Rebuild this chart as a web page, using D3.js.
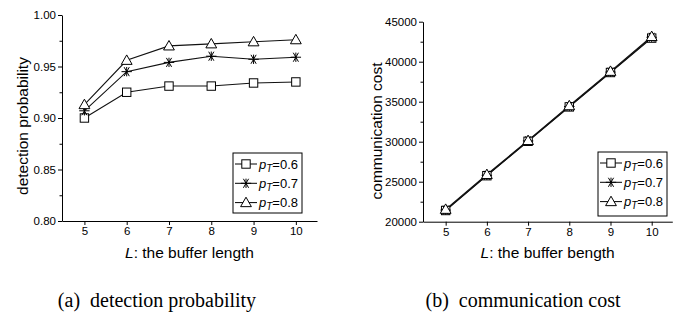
<!DOCTYPE html>
<html>
<head>
<meta charset="utf-8">
<script src="https://cdn.jsdelivr.net/npm/d3@7"></script>
<style>
  body { margin: 0; background: #fff; }
  svg { display: block; }
  text { font-family: "Liberation Sans", Arial, sans-serif; fill: #000; }
</style>
</head>
<body>
<svg id="chart" width="683" height="322"></svg>
<script>
// Data
const bufferLength = [5, 6, 7, 8, 9, 10];
const seriesNames = ['0.6', '0.7', '0.8'];
const markerTypes = ['square', 'star', 'triangle'];

const detect06 = [0.900, 0.925, 0.931, 0.931, 0.934, 0.935];
const detect07 = [0.907, 0.945, 0.954, 0.960, 0.957, 0.959];
const detect08 = [0.913, 0.956, 0.970, 0.972, 0.974, 0.976];

const cost06 = [21400, 25750, 30050, 34350, 38650, 42950];
const cost07 = [21450, 25800, 30100, 34400, 38700, 43050];
const cost08 = [21550, 25900, 30150, 34500, 38800, 43150];

const detectTicks = [0.80, 0.85, 0.90, 0.95, 1.00];
const costTicks = [20000, 25000, 30000, 35000, 40000, 45000];

const svg = d3.select('#chart');

function drawMarker(g, type, cx, cy) {
  if (type === 'square') {
    g.append('rect')
      .attr('x', cx - 4.2).attr('y', cy - 4.2)
      .attr('width', 8.4).attr('height', 8.4)
      .attr('fill', '#fff').attr('stroke', '#000').attr('stroke-width', 1);
  } else if (type === 'triangle') {
    const r = 5.4;
    g.append('path')
      .attr('d', `M${cx},${cy - r}L${cx + r},${cy + r * 0.75}L${cx - r},${cy + r * 0.75}Z`)
      .attr('fill', '#fff').attr('stroke', '#000').attr('stroke-width', 1);
  } else {
    const r = 5.2;
    let d = '';
    [0, 60, 120].forEach(a => {
      const rad = a * Math.PI / 180;
      d += `M${cx - r * Math.cos(rad)},${cy - r * Math.sin(rad)}L${cx + r * Math.cos(rad)},${cy + r * Math.sin(rad)}`;
    });
    d += `M${cx},${cy - r * 0.9}L${cx},${cy + r * 0.9}`;
    g.append('path').attr('d', d)
      .attr('fill', 'none').attr('stroke', '#000').attr('stroke-width', 1);
  }
}

function drawPanel(opts) {
  const { series, xDomain, xRange, yDomain, yRange, yTicks, minorStep, fmt,
          yLabel, yLabelPos, xLabel, xLabelY, legendBox } = opts;

  const x = d3.scaleLinear().domain(xDomain).range(xRange);
  const y = d3.scaleLinear().domain(yDomain).range(yRange);
  const g = svg.append('g');

  // Minor ticks
  const minor = d3.range(yDomain[0] + minorStep, yDomain[1], minorStep * 2);
  g.append('g')
    .attr('transform', `translate(${xRange[0]},0)`)
    .call(d3.axisLeft(y).tickValues(minor).tickSize(2.5).tickFormat(''))
    .call(a => a.select('.domain').remove())
    .selectAll('line').attr('stroke', '#000');

  // Y axis
  const ya = g.append('g')
    .attr('transform', `translate(${xRange[0]},0)`)
    .call(d3.axisLeft(y).tickValues(yTicks).tickFormat(fmt).tickSize(4).tickSizeOuter(0).tickPadding(2));
  ya.selectAll('text').style('font-size', '11.5px').attr('fill', '#000');
  ya.selectAll('line, path').attr('stroke', '#000');

  // X axis
  const xa = g.append('g')
    .attr('transform', `translate(0,${yRange[0]})`)
    .call(d3.axisBottom(x).tickValues(bufferLength).tickFormat(d3.format('d'))
      .tickSize(4).tickSizeOuter(0).tickPadding(2));
  xa.selectAll('text').style('font-size', '11.5px').attr('fill', '#000');
  xa.selectAll('line, path').attr('stroke', '#000');

  // Lines and markers
  const line = d3.line().x((d, i) => x(bufferLength[i])).y(d => y(d));
  series.forEach(vals => {
    g.append('path').datum(vals)
      .attr('d', line)
      .attr('fill', 'none').attr('stroke', '#111').attr('stroke-width', 1.1);
  });
  series.forEach((vals, s) => {
    vals.forEach((v, i) => drawMarker(g, markerTypes[s], x(bufferLength[i]), y(v)));
  });

  // Axis titles
  g.append('text')
    .attr('transform', `translate(${yLabelPos[0]},${yLabelPos[1]}) rotate(-90)`)
    .attr('text-anchor', 'middle')
    .style('font-size', '15.5px')
    .text(yLabel);

  const xt = g.append('text')
    .attr('x', (xRange[0] + xRange[1]) / 2)
    .attr('y', xLabelY)
    .attr('text-anchor', 'middle')
    .style('font-size', '15.5px');
  xt.append('tspan').style('font-style', 'italic').text('L');
  xt.append('tspan').text(xLabel);

  // Legend
  const [lx, ly, lw, lh] = legendBox;
  g.append('rect')
    .attr('x', lx).attr('y', ly).attr('width', lw).attr('height', lh)
    .attr('fill', '#fff').attr('stroke', '#000').attr('stroke-width', 1);
  seriesNames.forEach((name, s) => {
    const cy = ly + 11 + s * 19.3;
    g.append('line')
      .attr('x1', lx + 2).attr('x2', lx + 24)
      .attr('y1', cy).attr('y2', cy)
      .attr('stroke', '#000').attr('stroke-width', 1);
    drawMarker(g, markerTypes[s], lx + 13, cy);
    const t = g.append('text')
      .attr('x', lx + 26).attr('y', cy + 4.5)
      .style('font-size', '13px');
    t.append('tspan').style('font-style', 'italic').text('p');
    t.append('tspan').style('font-style', 'italic').style('font-size', '10px').attr('dy', 3).text('T');
    t.append('tspan').attr('dy', -3).text('=' + name);
  });
}

drawPanel({
  series: [detect06, detect07, detect08],
  xDomain: [4.47, 10.5], xRange: [62, 317],
  yDomain: [0.80, 1.00], yRange: [221, 15],
  yTicks: detectTicks, minorStep: 0.025, fmt: d3.format('.2f'),
  yLabel: 'detection probability', yLabelPos: [28, 126],
  xLabel: ': the buffer length', xLabelY: 258,
  legendBox: [233, 153, 69, 60]
});

drawPanel({
  series: [cost06, cost07, cost08],
  xDomain: [4.45, 10.5], xRange: [423, 672.3],
  yDomain: [20000, 45000], yRange: [221.7, 21.7],
  yTicks: costTicks, minorStep: 2500, fmt: d3.format('d'),
  yLabel: 'communication cost', yLabelPos: [382, 131],
  xLabel: ': the buffer bength', xLabelY: 258,
  legendBox: [598, 152, 69, 64]
});

// Sub-captions
svg.append('text')
  .attr('x', 157).attr('y', 307)
  .attr('text-anchor', 'middle')
  .style('font-family', '"Liberation Serif", "Times New Roman", serif')
  .style('font-size', '20px')
  .text('(a)\u00a0 detection probability');

svg.append('text')
  .attr('x', 523).attr('y', 307)
  .attr('text-anchor', 'middle')
  .style('font-family', '"Liberation Serif", "Times New Roman", serif')
  .style('font-size', '20px')
  .text('(b)\u00a0 communication cost');
</script>
</body>
</html>
